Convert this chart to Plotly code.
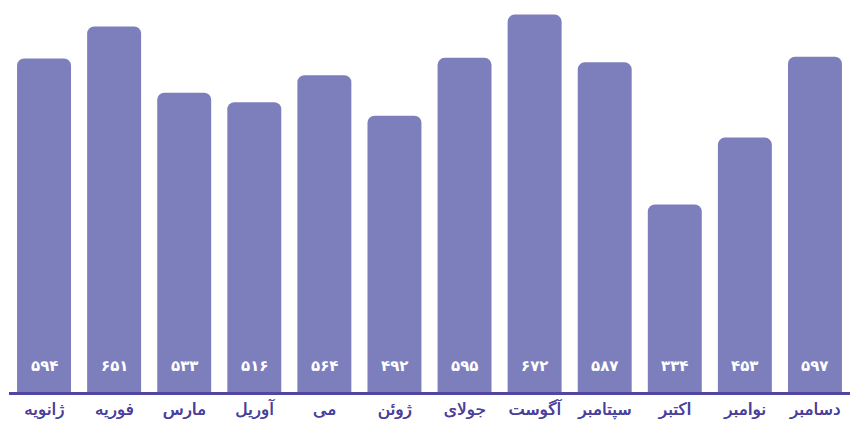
import plotly.graph_objects as go

months = ["ژانویه", "فوریه", "مارس", "آوریل", "می", "ژوئن",
          "جولای", "آگوست", "سپتامبر", "اکتبر", "نوامبر", "دسامبر"]
sales = [594, 651, 533, 516, 564, 492, 595, 672, 587, 334, 453, 597]

BAR = "#7d7fbd"
INK = "#4b3f9c"
FONT = "DejaVu Sans, Noto Sans, sans-serif"

persian_digits = str.maketrans("0123456789", "۰۱۲۳۴۵۶۷۸۹")


def fa(n):
    return str(n).translate(persian_digits)


fig = go.Figure()
fig.add_trace(go.Bar(
    x=months,
    y=sales,
    marker=dict(color=BAR, cornerradius=7, line=dict(width=0)),
    hoverinfo="skip",
))

# value labels sit near the foot of each bar
for m, v in zip(months, sales):
    fig.add_annotation(
        x=m, y=0, yshift=26, text=fa(v), showarrow=False,
        font=dict(family=FONT, size=15, color="white", weight="bold"),
        xanchor="center", yanchor="middle",
    )

fig.update_layout(
    width=850, height=428,
    margin=dict(l=9, r=0, t=0, b=36),
    paper_bgcolor="white", plot_bgcolor="white",
    bargap=0.23,
    showlegend=False,
    xaxis=dict(
        showline=True, linecolor="#5146a0", linewidth=3,
        showgrid=False, ticks="",
        # a faint same-colour shadow gives the month names a medium weight
        tickfont=dict(family=FONT, size=17, color=INK,
                      shadow="0.6px 0px 0px " + INK),
        fixedrange=True,
    ),
    yaxis=dict(
        range=[0, 698], visible=False, showgrid=False, zeroline=False,
        fixedrange=True,
    ),
)

fig.write_html("out.html")
